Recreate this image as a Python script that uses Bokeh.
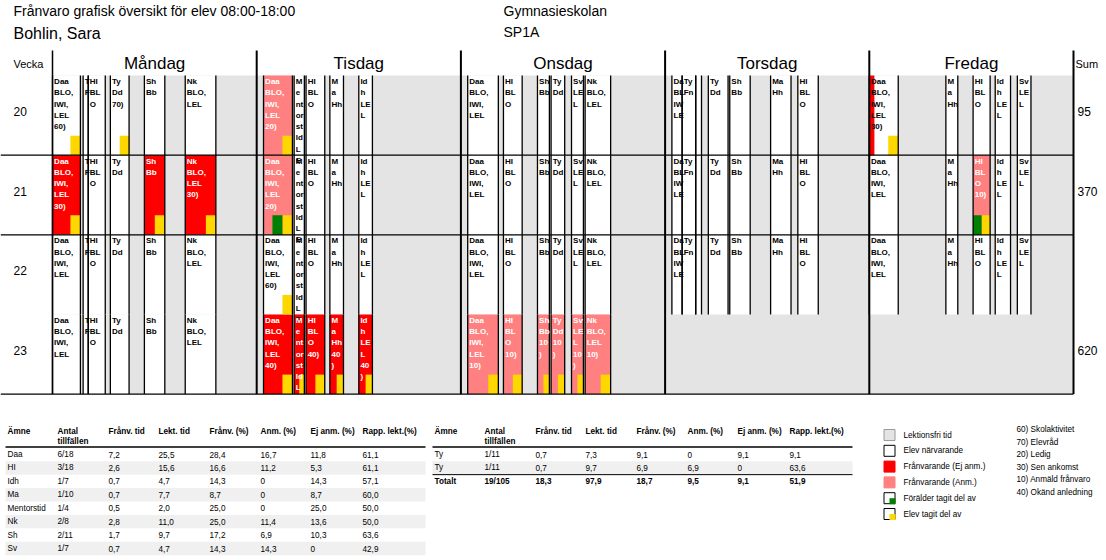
from bokeh.plotting import figure
from bokeh.models import Range1d
from bokeh.embed import file_html
from bokeh.resources import INLINE
from bokeh.core.properties import value

# ---------------- data ----------------
TITLE = "Frånvaro grafisk översikt för elev 08:00-18:00"
STUDENT = "Bohlin, Sara"
SCHOOL = "Gymnasieskolan"
CLASS_NAME = "SP1A"

DAYS = ["Måndag", "Tisdag", "Onsdag", "Torsdag", "Fredag"]
WEEKS = ["20", "21", "22", "23"]
WEEK_SUMS = ["95", "370", "", "620"]

# lesson schedule per day (same every week)
LESSON_START = [
    ["08:00", "09:30", "09:45", "10:50", "12:30", "14:30"],
    ["08:20", "09:50", "10:25", "11:35", "13:00"],
    ["08:20", "10:05", "11:45", "12:25", "13:25", "14:05"],
    ["08:20", "08:50", "09:30", "10:07", "11:10", "13:10", "14:30"],
    ["08:00", "11:45", "13:05", "14:10", "15:15"],
]
LESSON_END = [
    ["09:22", "09:45", "10:35", "11:45", "13:30", "16:00"],
    ["09:45", "10:20", "11:20", "12:15", "13:40"],
    ["09:50", "11:00", "12:20", "13:05", "14:00", "15:20"],
    ["08:50", "09:30", "09:47", "11:05", "12:10", "14:10", "15:30"],
    ["09:25", "12:20", "13:55", "14:55", "15:55"],
]
LESSON_LABEL = [
    ["Daa\nBLO,\nIWI,\nLEL", "T\nF", "HI\nBL\nO", "Ty\nDd", "Sh\nBb", "Nk\nBLO,\nLEL"],
    ["Daa\nBLO,\nIWI,\nLEL", "M\ne\nnt\nor\nst\nId\nL\nE", "HI\nBL\nO", "M\na\nHh", "Id\nh\nLE\nL"],
    ["Daa\nBLO,\nIWI,\nLEL", "HI\nBL\nO", "Sh\nBb", "Ty\nDd", "Sv\nLE\nL", "Nk\nBLO,\nLEL"],
    ["Da\nBL\nIW\nLE", "Ty\nFn", "", "Ty\nDd", "Sh\nBb", "Ma\nHh", "HI\nBL\nO"],
    ["Daa\nBLO,\nIWI,\nLEL", "M\na\nHh", "HI\nBL\nO", "Id\nh\nLE\nL", "Sv\nLE\nL"],
]

# P = present, E = absent (not reported), A = absent (reported), - = no lesson
STATUS_W20 = ["PPPPPP", "APPPP", "PPPPPP", "PPPPPPP", "PPPPP"]
STATUS_W21 = ["EPPPEE", "APPPP", "PPPPPP", "PPPPPPP", "PPAPP"]
STATUS_W22 = ["PPPPPP", "PPPPP", "PPPPPP", "PPPPPPP", "PPPPP"]
STATUS_W23 = ["PPPPPP", "EEEEE", "AAAAAA", "-------", "-----"]
WEEK_STATUS = [STATUS_W20, STATUS_W21, STATUS_W22, STATUS_W23]

# Y = student has seen, G = parent + student have seen
FLAGS_W20 = ["Y..Y..", "Y....", "......", ".......", "Y...."]
FLAGS_W21 = ["Y...YY", "G....", "......", ".......", "..G.."]
FLAGS_W22 = ["......", "Y....", "......", ".......", "....."]
FLAGS_W23 = ["......", "YYYYY", "YYYYYY", ".......", "....."]
WEEK_FLAGS = [FLAGS_W20, FLAGS_W21, FLAGS_W22, FLAGS_W23]

NOTES_W20 = {(0, 0): "60)", (0, 3): "70)", (1, 0): "20)", (4, 0): "30)"}
NOTES_W21 = {(0, 0): "30)", (0, 5): "30)", (1, 0): "20)", (4, 2): "10)"}
NOTES_W22 = {(1, 0): "60)"}
NOTES_W23 = {(1, 0): "40)", (1, 2): "40)", (1, 3): "40\n)", (1, 4): "40\n)",
             (2, 0): "10)", (2, 1): "10)", (2, 2): "10\n)", (2, 3): "10\n)",
             (2, 4): "10\n)", (2, 5): "10)"}
WEEK_NOTES = [NOTES_W20, NOTES_W21, NOTES_W22, NOTES_W23]

# late arrival, minutes (unreported)
LATE_W20 = {(4, 0): 15}
WEEK_LATE = [LATE_W20, {}, {}, {}]

TABLE_HEADERS = ["Ämne", "Antal\ntillfällen", "Frånv. tid", "Lekt. tid",
                 "Frånv. (%)", "Anm. (%)", "Ej anm. (%)", "Rapp. lekt.(%)"]
T1_SUBJECT = ["Daa", "HI", "Idh", "Ma", "Mentorstid", "Nk", "Sh", "Sv"]
T1_ANTAL = ["6/18", "3/18", "1/7", "1/10", "1/4", "2/8", "2/11", "1/7"]
T1_FRANV_TID = ["7,2", "2,6", "0,7", "0,7", "0,5", "2,8", "1,7", "0,7"]
T1_LEKT_TID = ["25,5", "15,6", "4,7", "7,7", "2,0", "11,0", "9,7", "4,7"]
T1_FRANV_PCT = ["28,4", "16,6", "14,3", "8,7", "25,0", "25,0", "17,2", "14,3"]
T1_ANM_PCT = ["16,7", "11,2", "0", "0", "0", "11,4", "6,9", "14,3"]
T1_EJ_ANM_PCT = ["11,8", "5,3", "14,3", "8,7", "25,0", "13,6", "10,3", "0"]
T1_RAPP_PCT = ["61,1", "61,1", "57,1", "60,0", "50,0", "50,0", "63,6", "42,9"]

T2_SUBJECT = ["Ty", "Ty"]
T2_ANTAL = ["1/11", "1/11"]
T2_FRANV_TID = ["0,7", "0,7"]
T2_LEKT_TID = ["7,3", "9,7"]
T2_FRANV_PCT = ["9,1", "6,9"]
T2_ANM_PCT = ["0", "6,9"]
T2_EJ_ANM_PCT = ["9,1", "0"]
T2_RAPP_PCT = ["9,1", "63,6"]
TOTAL_ROW = ["Totalt", "19/105", "18,3", "97,9", "18,7", "9,5", "9,1", "51,9"]

LEGEND_LABELS = ["Lektionsfri tid", "Elev närvarande", "Frånvarande (Ej anm.)",
                 "Frånvarande (Anm.)", "Förälder tagit del av", "Elev tagit del av"]
CODE_LABELS = ["60) Skolaktivitet", "70) Elevråd", "20) Ledig", "30) Sen ankomst",
               "10) Anmäld frånvaro", "40) Okänd anledning"]

# ---------------- style / layout ----------------
FONT = value("Liberation Sans")
W, H = 1106, 560
GRAY = "#e4e4e4"
RED = "#ff0000"
PINK = "#ff8080"
YELLOW = "#ffd700"
GREEN = "#008000"
GRID_X0, GRID_X1 = 52, 1073
DAY_START, DAY_HOURS = 8, 10
HOUR_PX = (GRID_X1 - GRID_X0) / (len(DAYS) * DAY_HOURS)
HEAD_TOP, GRID_TOP, ROW_H = 50, 75, 79.65
GRID_BOT = GRID_TOP + ROW_H * len(WEEKS)
BREAK_AFTER = [0, 1]
FLAG_W_PX, FLAG_H = 10, 19.5


def hm(s):
    h, m = s.split(":")
    return int(h) + int(m) / 60


def tpos(day, s):
    return day * DAY_HOURS + hm(s) - DAY_START


p = figure(width=W, height=H, x_range=Range1d(0, W), y_range=Range1d(H, 0),
           output_backend="svg", toolbar_location=None, x_axis_location=None,
           y_axis_location=None, min_border=0, margin=0)
p.grid.visible = False
p.outline_line_color = None
p.background_fill_color = "white"
p.extra_x_ranges = {"t": Range1d(-GRID_X0 / HOUR_PX, (W - GRID_X0) / HOUR_PX)}

# header texts
p.text(x=[13], y=[10], text=[TITLE], text_font=FONT, text_font_size="14px",
       text_baseline="middle", text_color="black")
p.text(x=[13], y=[33], text=[STUDENT], text_font=FONT, text_font_size="16px",
       text_baseline="middle", text_color="black")
p.text(x=[503], y=[10], text=[SCHOOL], text_font=FONT, text_font_size="14px",
       text_baseline="middle", text_color="black")
p.text(x=[503], y=[31], text=[CLASS_NAME], text_font=FONT, text_font_size="14px",
       text_baseline="middle", text_color="black")
p.text(x=[13], y=[63], text=["Vecka"], text_font=FONT, text_font_size="11px",
       text_baseline="middle", text_color="black")
p.text(x=[1075], y=[63], text=["Sum"], text_font=FONT, text_font_size="11px",
       text_baseline="middle", text_color="black")
p.text(x=[d * DAY_HOURS + DAY_HOURS / 2 for d in range(len(DAYS))], y=[63] * len(DAYS),
       text=DAYS, x_range_name="t", text_font=FONT, text_font_size="17px",
       text_align="center", text_baseline="middle", text_color="black")

# grid background (lesson-free time)
p.quad(left=[0], right=[len(DAYS) * DAY_HOURS], top=[GRID_TOP], bottom=[GRID_BOT],
       x_range_name="t", fill_color=GRAY, line_color=None)

cl, cr, ct, cb, cc = [], [], [], [], []
sl, st_, sb = [], [], []
txt_x, txt_y, txt_t, txt_c = [], [], [], []
fl, fr, ft, fb, fc = [], [], [], [], []
for w in range(len(WEEKS)):
    top = GRID_TOP + w * ROW_H
    bot = top + ROW_H
    for d in range(len(DAYS)):
        for i in range(len(LESSON_START[d])):
            s = WEEK_STATUS[w][d][i]
            if s == "-":
                continue
            l = tpos(d, LESSON_START[d][i])
            r = tpos(d, LESSON_END[d][i])
            color = {"P": "white", "E": RED, "A": PINK}[s]
            cl.append(l); cr.append(r); ct.append(top); cb.append(bot); cc.append(color)
            late = WEEK_LATE[w].get((d, i))
            if late:
                fl.append(l); fr.append(l + late / 60); ft.append(top); fb.append(bot); fc.append(RED)
            flag = WEEK_FLAGS[w][d][i]
            if flag != ".":
                fw = min(FLAG_W_PX / HOUR_PX, (r - l) / 2)
                fl.append(r - fw); fr.append(r); ft.append(bot - FLAG_H); fb.append(bot); fc.append(YELLOW)
                if flag == "G":
                    fl.append(r - 2 * fw); fr.append(r - fw); ft.append(bot - FLAG_H); fb.append(bot); fc.append(GREEN)
            for xx in (l, r):
                sl.append(xx); st_.append(top); sb.append(bot)
            label = LESSON_LABEL[d][i]
            note = WEEK_NOTES[w].get((d, i))
            if note:
                label = label + "\n" + note
            if label:
                txt_x.append(l); txt_y.append(top + 1.5); txt_t.append(label)
                txt_c.append("black" if s == "P" else "white")

p.quad(left=cl, right=cr, top=ct, bottom=cb, fill_color=cc, line_color=None, x_range_name="t")
p.quad(left=fl, right=fr, top=ft, bottom=fb, fill_color=fc, line_color=None, x_range_name="t")
p.segment(x0=sl, y0=st_, x1=sl, y1=sb, line_color="black", line_width=1.3, x_range_name="t")

p.text(x=txt_x, y=txt_y, text=txt_t, text_color=txt_c,
       x_range_name="t", x_offset=1.6, text_font=FONT, text_font_size="8px",
       text_font_style="bold", text_line_height=1.25, text_baseline="top")

# day boundary lines
bx = [d * DAY_HOURS for d in range(len(DAYS) + 1)]
p.segment(x0=bx[:1], y0=[HEAD_TOP], x1=bx[:1], y1=[GRID_BOT], line_color="black",
          line_width=1.5, x_range_name="t")
p.segment(x0=bx[1:], y0=[HEAD_TOP] * len(DAYS), x1=bx[1:], y1=[GRID_BOT] * len(DAYS),
          line_color="black", line_width=2, x_range_name="t")
# week separator lines
hy = [GRID_TOP + (w + 1) * ROW_H for w in BREAK_AFTER] + [GRID_BOT]
p.segment(x0=[0] * len(hy), y0=hy, x1=[GRID_X1] * len(hy), y1=hy,
          line_color="black", line_width=1.3)

# week labels and sums
wy = [GRID_TOP + w * ROW_H + 36 for w in range(len(WEEKS))]
p.text(x=[13] * len(WEEKS), y=wy, text=WEEKS, text_font=FONT, text_font_size="12px",
       text_baseline="middle", text_color="black")
p.text(x=[1077] * len(WEEKS), y=wy, text=WEEK_SUMS, text_font=FONT, text_font_size="12px",
       text_baseline="middle", text_color="black")

# ---------------- tables ----------------
COL_OFF = [2, 52, 103, 153, 204, 255, 305, 357]
ROW0, ROW_P = 454, 13.43


def draw_table(x0, rows, total=None):
    x1 = x0 + 420
    n = len(rows[0])
    zb = [k for k in range(n) if k % 2 == 1]
    if zb:
        p.quad(left=[x0] * len(zb), right=[x1] * len(zb),
               top=[ROW0 + k * ROW_P - ROW_P / 2 for k in zb],
               bottom=[ROW0 + k * ROW_P + ROW_P / 2 for k in zb],
               fill_color="#f0f0f0", line_color=None)
    p.text(x=[x0 + o for o in COL_OFF], y=[426] * 8, text=TABLE_HEADERS, text_font=FONT,
           text_font_size="8.2px", text_font_style="bold", text_line_height=1.22,
           text_baseline="top", text_color="black")
    p.segment(x0=[x0], y0=[446.5], x1=[x1], y1=[446.5], line_color="black", line_width=1.5)
    for c, col in enumerate(rows):
        p.text(x=[x0 + COL_OFF[c]] * n, y=[ROW0 + k * ROW_P for k in range(n)], text=col,
               text_font=FONT, text_font_size="8.2px", text_baseline="middle", text_color="black")
    if total:
        ty = ROW0 + n * ROW_P
        p.segment(x0=[x0], y0=[ty - ROW_P / 2], x1=[x1], y1=[ty - ROW_P / 2],
                  line_color="black", line_width=1)
        p.text(x=[x0 + o for o in COL_OFF], y=[ty] * 8, text=total, text_font=FONT,
               text_font_size="8.2px", text_font_style="bold", text_baseline="middle",
               text_color="black")


draw_table(5, [T1_SUBJECT, T1_ANTAL, T1_FRANV_TID, T1_LEKT_TID, T1_FRANV_PCT,
               T1_ANM_PCT, T1_EJ_ANM_PCT, T1_RAPP_PCT])
draw_table(432, [T2_SUBJECT, T2_ANTAL, T2_FRANV_TID, T2_LEKT_TID, T2_FRANV_PCT,
                 T2_ANM_PCT, T2_EJ_ANM_PCT, T2_RAPP_PCT], TOTAL_ROW)

# ---------------- legend ----------------
LG_X, LG_Y, LG_P, LG_S = 883.5, 429, 15.8, 11
ly = [LG_Y + k * LG_P for k in range(len(LEGEND_LABELS))]
sq_fill = [GRAY, "white", RED, PINK, "white", "white"]
sq_line = ["#9a9a9a", "black", RED, PINK, "black", "black"]
p.quad(left=[LG_X] * 6, right=[LG_X + LG_S] * 6, top=ly, bottom=[y + LG_S for y in ly],
       fill_color=sq_fill, line_color=sq_line, line_width=1)
p.quad(left=[LG_X + 5.5] * 2, right=[LG_X + LG_S + 0.5] * 2, top=[ly[4] + 5.5, ly[5] + 5.5],
       bottom=[ly[4] + LG_S + 0.5, ly[5] + LG_S + 0.5], fill_color=[GREEN, YELLOW], line_color=None)
p.text(x=[903] * 6, y=[y + LG_S / 2 for y in ly], text=LEGEND_LABELS, text_font=FONT,
       text_font_size="8.2px", text_baseline="middle", text_color="black")
p.text(x=[1016] * 6, y=[429 + k * 12.55 for k in range(6)], text=CODE_LABELS, text_font=FONT,
       text_font_size="8.2px", text_baseline="middle", text_color="black")

open("out.html", "w").write(file_html(p, INLINE))
